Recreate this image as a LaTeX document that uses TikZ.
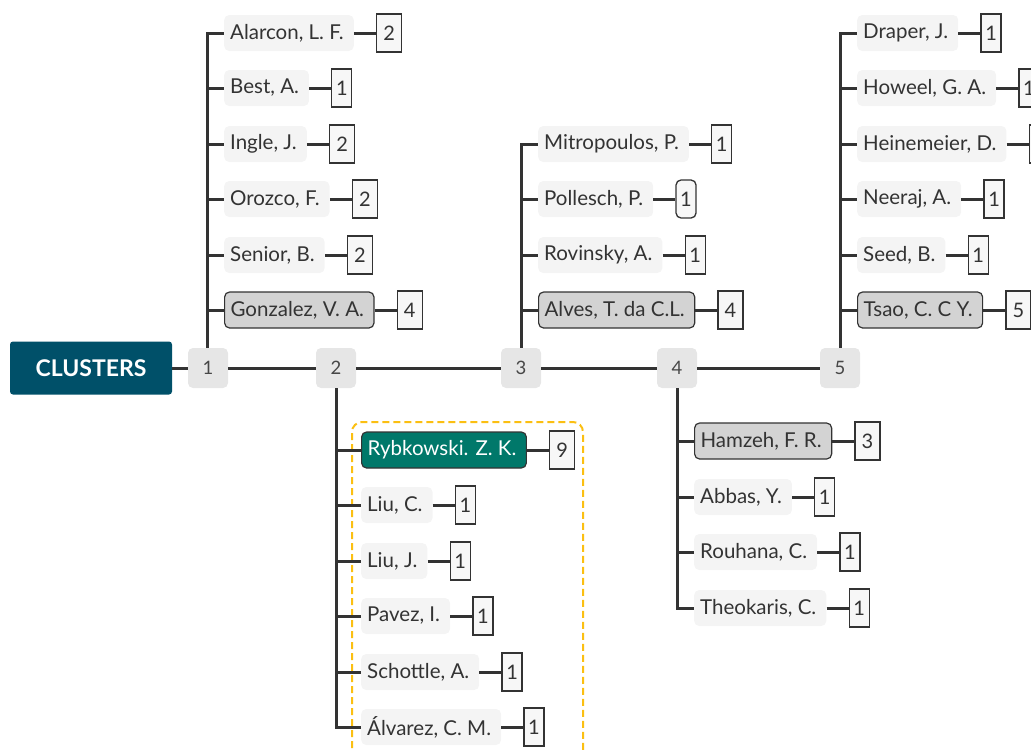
\documentclass[tikz,border=0pt]{standalone}
\usepackage{fontspec}
\setmainfont{Lato}
\usetikzlibrary{positioning}
\definecolor{linec}{HTML}{333333}
\definecolor{namebg}{HTML}{F4F4F4}
\definecolor{hlgray}{HTML}{D3D3D3}
\definecolor{numbg}{HTML}{E6E6E6}
\definecolor{cntbg}{HTML}{F7F7F7}
\definecolor{clbg}{HTML}{005069}
\definecolor{teal}{HTML}{00786A}
\definecolor{dashc}{HTML}{FBBF12}
\tikzset{
  ln/.style={draw=linec, line width=3pt},
  nm/.style={fill=namebg, rounded corners=5pt, inner xsep=6pt, minimum height=36pt, anchor=west, text=linec, font=\fontsize{20.5}{24}\selectfont, execute at end node=\hspace*{4pt}},
  hl/.style={nm, fill=hlgray, draw=linec, line width=1.2pt, execute at end node={}},
  hlt/.style={hl, fill=teal, text=white},
  cnt/.style={draw=linec, fill=cntbg, line width=1.3pt, minimum height=38pt, minimum width=20pt, inner xsep=4pt, text=linec, font=\fontsize{20}{24}\selectfont},
  cntw/.style={cnt, minimum width=25pt},
  cntr/.style={cnt, rounded corners=5pt},
  num/.style={fill=numbg, rounded corners=5pt, minimum width=40pt, minimum height=40pt, text=linec!90, font=\fontsize{18.5}{22}\selectfont},
}
\newcommand\leafitem[8][cnt]{%
  \coordinate (#2-k) at (#3,#5);
  \node[#6] (#2) at (#4,#5) {#7};
  \node[#1, right=22pt of #2] (#2-c) {#8};
  \draw[ln] (#2-k) -- (#2.west);
  \draw[ln] (#2.east) -- (#2-c.west);
}
\begin{document}
\begin{tikzpicture}[x=1pt,y=-1pt]
\useasboundingbox (0,0) rectangle (1031,750);
% dashed group
\draw[dashc, line width=2pt, dash pattern=on 7pt off 4pt, rounded corners=10pt] (352,770) -- (352,422) -- (583,422) -- (583,770);
% root and cluster numbers
\node[fill=clbg, rounded corners=3pt, minimum width=162pt, minimum height=53pt, text=white, font=\fontsize{23}{26}\selectfont\bfseries] (root) at (91,368) {CLUSTERS};
\node[num] (c1) at (208,368) {1};
\node[num] (c2) at (336,368) {2};
\node[num] (c3) at (521,368) {3};
\node[num] (c4) at (677,368) {4};
\node[num] (c5) at (840,368) {5};
\draw[ln] (root.east) -- (c1.west);
\draw[ln] (c1.east) -- (c2.west);
\draw[ln] (c2.east) -- (c3.west);
\draw[ln] (c3.east) -- (c4.west);
\draw[ln] (c4.east) -- (c5.west);
% cluster 1
\leafitem[cntw]{a1}{207}{224}{33}{nm}{Alarcon, L. F.}{2}
\leafitem{a2}{207}{224}{88}{nm}{Best, A.}{1}
\leafitem[cntw]{a3}{207}{224}{144}{nm}{Ingle, J.}{2}
\leafitem[cntw]{a4}{207}{224}{199}{nm}{Orozco, F.}{2}
\leafitem[cntw]{a5}{207}{224}{255}{nm}{Senior, B.}{2}
\leafitem[cntw]{a6}{207}{224}{310}{hl}{Gonzalez, V. A.}{4}
\draw[ln] (c1.north -| a1-k) -- (a1-k) -- (a1.west);
% cluster 3
\leafitem{b1}{521}{538}{144}{nm}{Mitropoulos, P.}{1}
\leafitem[cntr]{b2}{521}{538}{199}{nm}{Pollesch, P.}{1}
\leafitem{b3}{521}{538}{255}{nm}{Rovinsky, A.}{1}
\leafitem[cntw]{b4}{521}{538}{310}{hl}{Alves, T. da C.L.}{4}
\draw[ln] (c3.north) -- (b1-k) -- (b1.west);
% cluster 5
\leafitem{e1}{840}{857}{33}{nm}{Draper, J.}{1}
\leafitem{e2}{840}{857}{88}{nm}{Howeel, G. A.}{1}
\leafitem{e3}{840}{857}{144}{nm}{Heinemeier, D.}{1}
\leafitem{e4}{840}{857}{199}{nm}{Neeraj, A.}{1}
\leafitem{e5}{840}{857}{255}{nm}{Seed, B.}{1}
\leafitem[cntw]{e6}{840}{857}{310}{hl}{Tsao, C. C Y.}{5}
\draw[ln] (c5.north) -- (e1-k) -- (e1.west);
% cluster 2
\leafitem[cntw]{d1}{336}{361}{450}{hlt}{Rybkowski. Z. K.}{9}
\leafitem{d2}{336}{361}{505}{nm}{Liu, C.}{1}
\leafitem{d3}{336}{361}{561}{nm}{Liu, J.}{1}
\leafitem{d4}{336}{361}{616}{nm}{Pavez, I.}{1}
\leafitem{d5}{336}{361}{672}{nm}{Schottle, A.}{1}
\leafitem{d6}{336}{361}{727}{nm}{Álvarez, C. M.}{1}
\draw[ln] (c2.south) -- (d6-k) -- (d6.west);
% cluster 4
\leafitem[cntw]{f1}{677}{694}{441}{hl}{Hamzeh, F. R.}{3}
\leafitem{f2}{677}{694}{497}{nm}{Abbas, Y.}{1}
\leafitem{f3}{677}{694}{552}{nm}{Rouhana, C.}{1}
\leafitem{f4}{677}{694}{608}{nm}{Theokaris, C.}{1}
\draw[ln] (c4.south) -- (f4-k) -- (f4.west);
\end{tikzpicture}
\end{document}
